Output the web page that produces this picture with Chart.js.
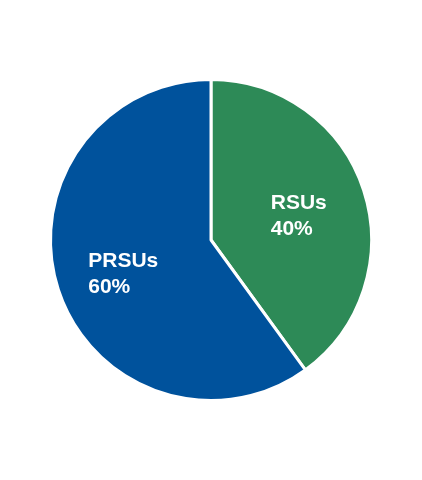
<!DOCTYPE html>
<html>
<head>
<meta charset="utf-8">
<script src="https://cdn.jsdelivr.net/npm/chart.js@4"></script>
<style>
  body { margin: 0; background: #fff; }
  #wrap { width: 422px; height: 480px; }
</style>
</head>
<body>
<div id="wrap"><canvas id="myChart" width="422" height="480"></canvas></div>
<script>
'use strict';
let labelNames = ['RSUs', 'PRSUs'];
let shareValues = [40, 60];
let sliceColors = ['#2d8a57', '#00529c'];

// draws the name and percent inside each slice
let sliceLabels = {
    id: 'sliceLabels',
    afterDatasetsDraw(chart) {
        let ctx = chart.ctx;
        let meta = chart.getDatasetMeta(0);
        ctx.save();
        ctx.font = 'bold 21px "Liberation Sans", Arial, sans-serif';
        ctx.fillStyle = '#ffffff';
        ctx.textAlign = 'left';
        ctx.textBaseline = 'alphabetic';
        meta.data.forEach(function (arc, i) {
            let mid = (arc.startAngle + arc.endAngle) / 2;
            let r = arc.outerRadius * 0.575;
            let x = arc.x + Math.cos(mid) * r;
            let y = arc.y + Math.sin(mid) * r;
            let lines = [labelNames[i], shareValues[i] + '%'];
            let w = Math.max(ctx.measureText(lines[0]).width, ctx.measureText(lines[1]).width);
            ctx.fillText(lines[0], x - w / 2, y - 2);
            ctx.fillText(lines[1], x - w / 2, y + 24);
        });
        ctx.restore();
    }
};

let ctx = document.getElementById('myChart').getContext('2d');
let myChart = new Chart(ctx, {
    type: 'pie',
    data: {
        labels: labelNames,
        datasets: [{
            data: shareValues,
            backgroundColor: sliceColors,
            borderColor: '#ffffff',
            borderWidth: 3
        }]
    },
    options: {
        responsive: false,
        animation: false,
        layout: { padding: { left: 49, right: 49, top: 78, bottom: 78 } },
        plugins: {
            legend: { display: false },
            tooltip: { enabled: false }
        }
    },
    plugins: [sliceLabels]
});
</script>
</body>
</html>
